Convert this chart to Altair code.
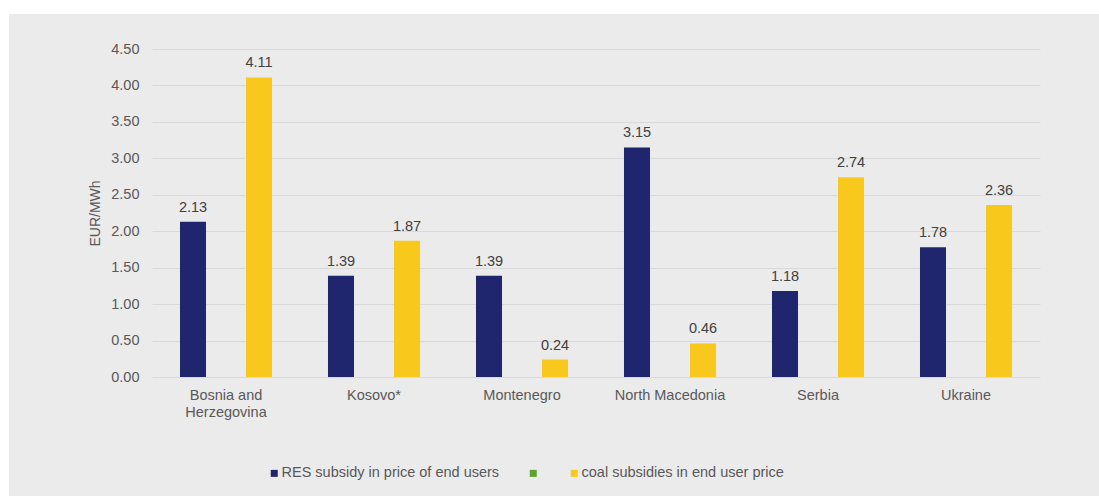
import altair as alt
import pandas as pd

countries = ["Bosnia and Herzegovina", "Kosovo*", "Montenegro", "North Macedonia", "Serbia", "Ukraine"]
res_values = [2.13, 1.39, 1.39, 3.15, 1.18, 1.78]
coal_values = [4.11, 1.87, 0.24, 0.46, 2.74, 2.36]
series = ["RES subsidy in price of end users", "other subsidy", "coal subsidies in end user price"]
colors = ["#1f266e", "#5ea32f", "#f9c81c"]
y_ticks = [0.0, 0.5, 1.0, 1.5, 2.0, 2.5, 3.0, 3.5, 4.0, 4.5]

rows = []
for c, r, k in zip(countries, res_values, coal_values):
    rows.append({"country": c, "series": series[0], "value": r})
    rows.append({"country": c, "series": series[2], "value": k})
df = pd.DataFrame(rows)

FONT = "Liberation Sans"
GRAY = "#595959"
BG = "#ebebeb"

x_enc = alt.X(
    "country:N",
    sort=countries,
    scale=alt.Scale(paddingInner=0, paddingOuter=0),
    axis=alt.Axis(
        title=None, labelAngle=0, ticks=False, tickSize=0, domain=False, grid=False,
        labelPadding=11, labelFontSize=14.5, labelColor=GRAY, labelFont=FONT,
        labelLineHeight=17,
        labelExpr="datum.value == 'Bosnia and Herzegovina' ? ['Bosnia and', 'Herzegovina'] : datum.label",
    ),
)
xoff_enc = alt.XOffset(
    "series:N",
    scale=alt.Scale(domain=series, paddingInner=0.212, paddingOuter=0.848),
)
y_enc = alt.Y(
    "value:Q",
    scale=alt.Scale(domain=[0, 4.5], nice=False, zero=True),
    axis=alt.Axis(
        values=y_ticks, format=".2f", title="EUR/MWh", titleFontWeight="normal",
        titleFontSize=14, titleColor=GRAY, titleFont=FONT, titlePadding=8,
        ticks=False, tickSize=0, domain=False, grid=True, gridColor="#d9d9d9",
        gridWidth=1, labelPadding=13, labelFontSize=14.5, labelColor=GRAY,
        labelFont=FONT,
    ),
)

bars = alt.Chart(df).mark_bar().encode(
    x=x_enc,
    xOffset=xoff_enc,
    y=y_enc,
    color=alt.Color(
        "series:N",
        scale=alt.Scale(domain=series, range=colors),
        legend=alt.Legend(
            title=None, orient="none", legendX=115, legendY=417,
            direction="horizontal", columnPadding=26, symbolType="square",
            symbolSize=49, symbolStrokeWidth=0, labelOffset=0,
            labelFontSize=14.5, labelColor=GRAY, labelFont=FONT,
            labelLimit=400, padding=0,
            labelExpr="datum.value == 'other subsidy' ? '  ' : datum.label",
        ),
    ),
)

labels = alt.Chart(df).mark_text(
    dy=-10, baseline="alphabetic", fontSize=14.5, color="#404040", font=FONT
).encode(
    x=x_enc,
    xOffset=xoff_enc,
    y=y_enc,
    text=alt.Text("value:Q", format=".2f"),
)

one = pd.DataFrame({"k": [0]})
strip_left = alt.Chart(one).mark_rect(color="white").encode(
    x=alt.value(-152), x2=alt.value(-143), y=alt.value(-49), y2=alt.value(447)
)
strip_top = alt.Chart(one).mark_rect(color="white").encode(
    x=alt.value(-152), x2=alt.value(947), y=alt.value(-49), y2=alt.value(-35)
)

chart = alt.layer(strip_left, strip_top, bars, labels).properties(
    width=888,
    height=328,
    padding={"left": 152, "top": 49, "right": 59, "bottom": 119},
    autosize=alt.AutoSizeParams(type="none"),
    background=BG,
).configure_view(stroke=None)

chart.save("out.html", embed_options={"renderer": "svg", "actions": False})
